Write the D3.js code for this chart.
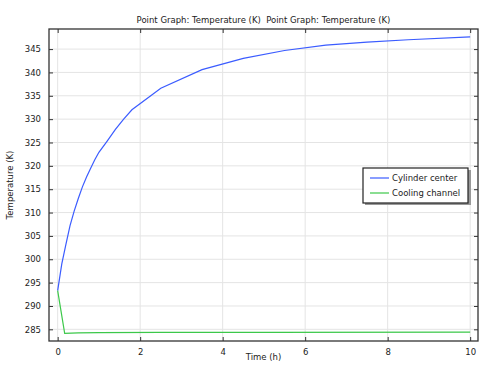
<!DOCTYPE html>
<html>
<head>
<meta charset="utf-8">
<script src="https://cdn.jsdelivr.net/npm/d3@7"></script>
<style>
  body { margin: 0; background: #fff; }
  text { font-family: "DejaVu Sans", sans-serif; fill: #222; }
</style>
</head>
<body>
<div id="chart"></div>
<script>
// data
var timeCenter = [0, 0.1, 0.2, 0.3, 0.4, 0.5, 0.6, 0.7, 0.8, 0.9, 1.0, 1.2, 1.4, 1.6, 1.8, 2.5, 3.5, 4.5, 5.5, 6.5, 7.5, 8.5, 10]
var tempCenter = [293.3, 299.0, 303.2, 307.2, 310.3, 313.0, 315.5, 317.6, 319.5, 321.3, 322.9, 325.3, 327.8, 330.0, 332.0, 336.6, 340.6, 343.0, 344.7, 345.85, 346.5, 347.0, 347.6]
var timeChannel = [0, 0.17, 0.5, 1, 2.5, 5, 10]
var tempChannel = [293.3, 284.15, 284.25, 284.3, 284.35, 284.35, 284.4]
var xTicks = [0, 2, 4, 6, 8, 10]
var yTicks = [285, 290, 295, 300, 305, 310, 315, 320, 325, 330, 335, 340, 345]
var seriesNames = ["Cylinder center", "Cooling channel"]
var seriesColors = ["#3b5cff", "#3cc84a"]

var width = 487
    height = 372
var margin = { top: 29, right: 9, bottom: 31, left: 49 }
var w = width - margin.left - margin.right,
    h = height - margin.top - margin.bottom

var svg = d3.select("#chart")
    .append("svg")
    .attr("width", width)
    .attr("height", height)

var g = svg.append("g")
    .attr("transform", "translate(" + margin.left + "," + margin.top + ")")

var x = d3.scaleLinear()
    .domain([-0.21, 10.19])
    .range([0, w])

var y = d3.scaleLinear()
    .domain([282.5, 349.3])
    .range([h, 0])

// grid
g.selectAll("xgrid")
    .data(xTicks)
    .enter()
    .append("line")
    .attr("x1", function (d) { return x(d) }).attr("x2", function (d) { return x(d) })
    .attr("y1", 0).attr("y2", h)
    .attr("stroke", "#e4e4e4")
g.selectAll("ygrid")
    .data(yTicks)
    .enter()
    .append("line")
    .attr("y1", function (d) { return y(d) }).attr("y2", function (d) { return y(d) })
    .attr("x1", 0).attr("x2", w)
    .attr("stroke", "#e4e4e4")

// axes with inward ticks
var bottom = g.append("g")
    .attr("transform", "translate(0," + h + ")")
    .call(d3.axisBottom(x).tickValues(xTicks).tickSize(-4).tickPadding(8).tickFormat(d3.format("d")))
var top = g.append("g")
    .call(d3.axisTop(x).tickValues(xTicks).tickSize(-4).tickFormat(""))
var left = g.append("g")
    .call(d3.axisLeft(y).tickValues(yTicks).tickSize(-4).tickPadding(8).tickFormat(d3.format("d")))
var right = g.append("g")
    .attr("transform", "translate(" + w + ",0)")
    .call(d3.axisRight(y).tickValues(yTicks).tickSize(-4).tickFormat(""))

g.selectAll(".domain").remove()
g.selectAll(".tick line").attr("stroke", "#333")
g.selectAll(".tick text").style("font-size", "8.5px").style("font-family", "DejaVu Sans").attr("fill", "#222")

// lines
var line = d3.line()
    .x(function (d) { return x(d[0]) })
    .y(function (d) { return y(d[1]) })

var series = [
    d3.zip(timeCenter, tempCenter),
    d3.zip(timeChannel, tempChannel)
]

g.selectAll("mylines")
    .data(series)
    .enter()
    .append("path")
    .attr("d", line)
    .attr("fill", "none")
    .attr("stroke", function (d, i) { return seriesColors[i] })
    .style("stroke-width", "1.2px")

// frame
g.append("rect")
    .attr("width", w)
    .attr("height", h)
    .attr("fill", "none")
    .attr("stroke", "#333")
    .style("stroke-width", "1.3px")

// titles
svg.append("text")
    .attr("x", margin.left + w / 2)
    .attr("y", 23)
    .attr("text-anchor", "middle")
    .style("font-size", "8.5px")
    .text("Point Graph: Temperature (K)  Point Graph: Temperature (K)")
    .attr("xml:space", "preserve")
    .style("white-space", "pre")

svg.append("text")
    .attr("x", margin.left + w / 2)
    .attr("y", 360)
    .attr("text-anchor", "middle")
    .style("font-size", "8.5px")
    .text("Time (h)")

svg.append("text")
    .attr("transform", "translate(13," + (margin.top + h / 2) + ")rotate(-90)")
    .attr("text-anchor", "middle")
    .style("font-size", "8.5px")
    .text("Temperature (K)")

// legend
var legend = svg.append("g").attr("transform", "translate(363,168)")
legend.append("rect")
    .attr("x", 2).attr("y", 2)
    .attr("width", 106).attr("height", 35)
    .attr("fill", "#999")
legend.append("rect")
    .attr("width", 105).attr("height", 35)
    .attr("fill", "#fff")
    .attr("stroke", "#222")
    .style("stroke-width", "1.2px")

var items = legend.selectAll("items")
    .data(seriesNames)
    .enter()
    .append("g")
    .attr("transform", function (d, i) { return "translate(0," + (10 + i * 15) + ")" })
items.append("line")
    .attr("x1", 7).attr("x2", 26)
    .attr("stroke", function (d, i) { return seriesColors[i] })
    .style("stroke-width", "1.2px")
items.append("text")
    .attr("x", 29)
    .attr("y", 3)
    .style("font-size", "8.5px")
    .text(function (d) { return d })
</script>
</body>
</html>
